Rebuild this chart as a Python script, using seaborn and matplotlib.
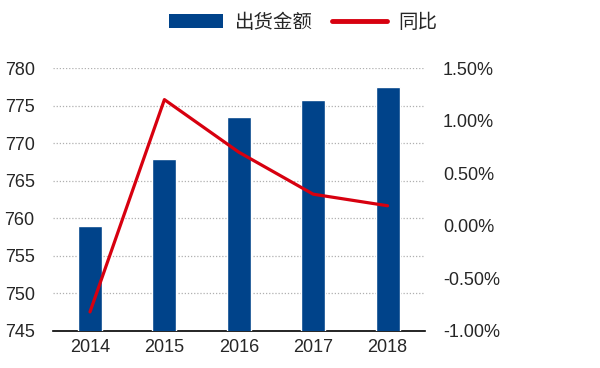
import matplotlib
matplotlib.use("Agg")
import matplotlib.pyplot as plt
import seaborn as sns
import pandas as pd
from matplotlib.lines import Line2D
from matplotlib.patches import Patch

years = ["2014", "2015", "2016", "2017", "2018"]
shipment_value = [759.0, 767.9, 773.5, 775.8, 777.5]
yoy_pct = [-0.82, 1.20, 0.70, 0.30, 0.19]
left_ticks = [745, 750, 755, 760, 765, 770, 775, 780]
right_ticks = [-1.0, -0.5, 0.0, 0.5, 1.0, 1.5]

sns.set_style("white")
plt.rcParams['font.family'] = ['Liberation Sans', 'Noto Sans CJK SC', 'DejaVu Sans']

df = pd.DataFrame({"year": years, "value": shipment_value, "yoy": yoy_pct})

fig = plt.figure(figsize=(6, 3.68), dpi=100)
ax = fig.add_axes([0.088, 0.101, 0.62, 0.714])

sns.barplot(data=df, x="year", y="value", color="#00438A", width=0.32,
            saturation=1, ax=ax, zorder=3)
ax.set_ylim(745, 780)
ax.set_yticks(left_ticks)
ax.set_xlim(-0.5, 4.5)
ax.set_xlabel("")
ax.set_ylabel("")
ax.yaxis.grid(True, linestyle=(0, (1, 1.5)), color="#B0B0B0", linewidth=0.9, zorder=0)
ax.set_axisbelow(True)
for s in ["top", "right", "left"]:
    ax.spines[s].set_visible(False)
ax.spines["bottom"].set_color("black")
ax.spines["bottom"].set_linewidth(1.2)
ax.tick_params(axis="both", length=0, labelsize=13)
ax.tick_params(axis="y", pad=13)
ax.tick_params(axis="x", pad=6)

ax2 = ax.twinx()
sns.lineplot(x=list(range(len(years))), y=yoy_pct, color="#D7000F", linewidth=2.3,
             ax=ax2, zorder=4)
ax2.set_ylim(-1.0, 1.5)
ax2.set_yticks(right_ticks)
ax2.set_yticklabels([f"{v:.2f}%" for v in right_ticks])
for s in ["top", "right", "left", "bottom"]:
    ax2.spines[s].set_visible(False)
ax2.tick_params(axis="y", length=0, labelsize=13, pad=13)
ax2.set_xlim(-0.5, 4.5)

handles = [Patch(facecolor="#00438A", edgecolor="none"),
           Line2D([0], [0], color="#D7000F", linewidth=3.5)]
fig.legend(handles, ["出货金额", "同比"], loc="center", bbox_to_anchor=(0.505, 0.94),
           ncol=2, frameon=False, handlelength=2.8, handleheight=0.7,
           columnspacing=1.0, handletextpad=0.6,
           prop={"family": ["Noto Sans CJK SC", "DejaVu Sans"], "size": 14})

fig.savefig("out.png", dpi=100)
